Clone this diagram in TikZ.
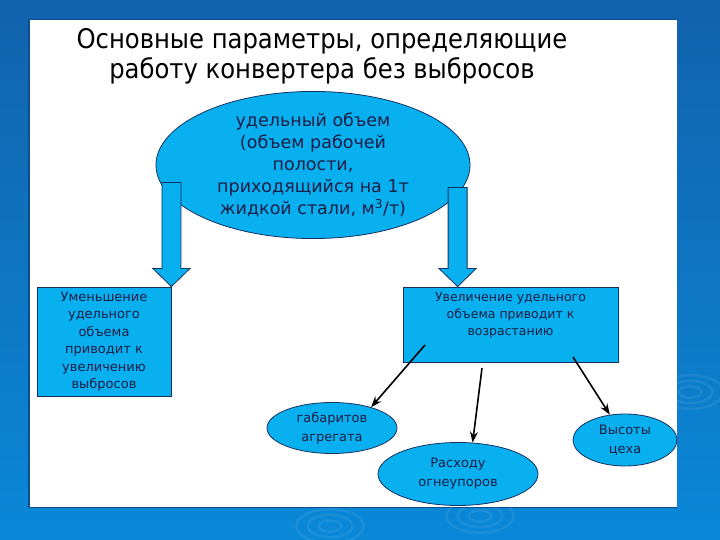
\documentclass[tikz,border=0pt]{standalone}
\usepackage{fontspec}
\setmainfont{DejaVu Sans}
\newfontfamily\titlefont{DejaVu Sans Condensed}
\usetikzlibrary{shapes.geometric,arrows.meta,calc}
\definecolor{slideblue}{RGB}{18,98,172}
\definecolor{slidelight}{RGB}{10,136,216}
\definecolor{cyanfill}{RGB}{8,176,240}
\definecolor{inkblue}{RGB}{26,30,70}
\definecolor{edgeblue}{RGB}{24,48,96}
\begin{document}
\begin{tikzpicture}[x=1pt, y=1pt,
  bubble/.style={ellipse, draw=edgeblue, line width=0.8pt, fill=cyanfill, inner sep=0pt,
    align=center, text=inkblue},
  panel/.style={rectangle, draw=edgeblue, line width=0.8pt, fill=cyanfill, inner sep=0pt,
    align=center, text=inkblue},
  blockarr/.style={draw=edgeblue, line width=0.8pt, fill=cyanfill},
  conn/.style={-{Stealth[length=11pt, width=8pt]}, line width=1.6pt, black},
  ripple/.style={white, opacity=0.07, line width=2.5pt}]
  \useasboundingbox (0,0) rectangle (720,540);
  % fon slajda
  \shade[top color=slideblue, bottom color=slidelight] (0,0) rectangle (720,540);
  \begin{scope}
    \clip (0,0) rectangle (720,540);
    \foreach \cx/\cy in {690/148, 330/14, 480/24}
      \foreach \r in {8,16,24}
        \draw[ripple] (\cx,\cy) ellipse ({\r*1.4} and {\r*0.7});
  \end{scope}
  \fill[slideblue!80!black] (28,32) rectangle (677,521);
  \fill[white] (30,33) rectangle (677,520);
  % zagolovok
  \node[font=\titlefont\fontsize{27}{30}\selectfont, align=center] (title) at (322,484)
    {Основные параметры, определяющие\\работу конвертера без выбросов};
  % glavnyj parametr
  \node[bubble, minimum width=314, minimum height=136, font=\fontsize{17.5}{22}\selectfont]
    (vol) at (313,375)
    {удельный объем\\(объем рабочей\\полости,\\приходящийся на 1т\\жидкой стали, м\textsuperscript{3}/т)};
  % vyvody
  \node[panel, minimum width=134, minimum height=109, font=\fontsize{13}{17.5}\selectfont]
    (lbox) at (104,198.5)
    {Уменьшение\\удельного\\объема\\приводит к\\увеличению\\выбросов};
  \node[panel, minimum width=215, minimum height=75, font=\fontsize{12.5}{17}\selectfont]
    (rbox) at (510.5,215.5)
    {Увеличение удельного\\объема приводит к\\возрастанию\\\strut};
  % blochnye strelki
  \coordinate (ltip) at (lbox.north east);
  \coordinate (rtip) at ($(rbox.north west)+(55,0)$);
  \foreach \t/\l in {ltip/104, rtip/99}
    \draw[blockarr] (\t) -- ++(18.5,18) -- ++(-9,0) -- ++(0,\l-18) -- ++(-19,0)
      -- ++(0,-\l+18) -- ++(-9,0) -- cycle;
  % sledstvija
  \node[bubble, minimum width=130, minimum height=51, font=\fontsize{13}{19}\selectfont]
    (gab) at (332,112) {габаритов\\агрегата};
  \node[bubble, minimum width=160, minimum height=63, font=\fontsize{13}{19}\selectfont]
    (ras) at (458,66) {Расходу\\огнеупоров};
  \node[bubble, minimum width=104, minimum height=52, font=\fontsize{13}{19}\selectfont]
    (vys) at (625,100) {Высоты\\цеха};
  % strelki
  \coordinate (s1) at (425,195);
  \coordinate (s2) at (482,172);
  \coordinate (s3) at (573,183);
  \draw[conn] (s1) -- (gab.28);
  \draw[conn] (s2) -- (ras.65);
  \draw[conn] (s3) -- (vys.121);
\end{tikzpicture}
\end{document}
